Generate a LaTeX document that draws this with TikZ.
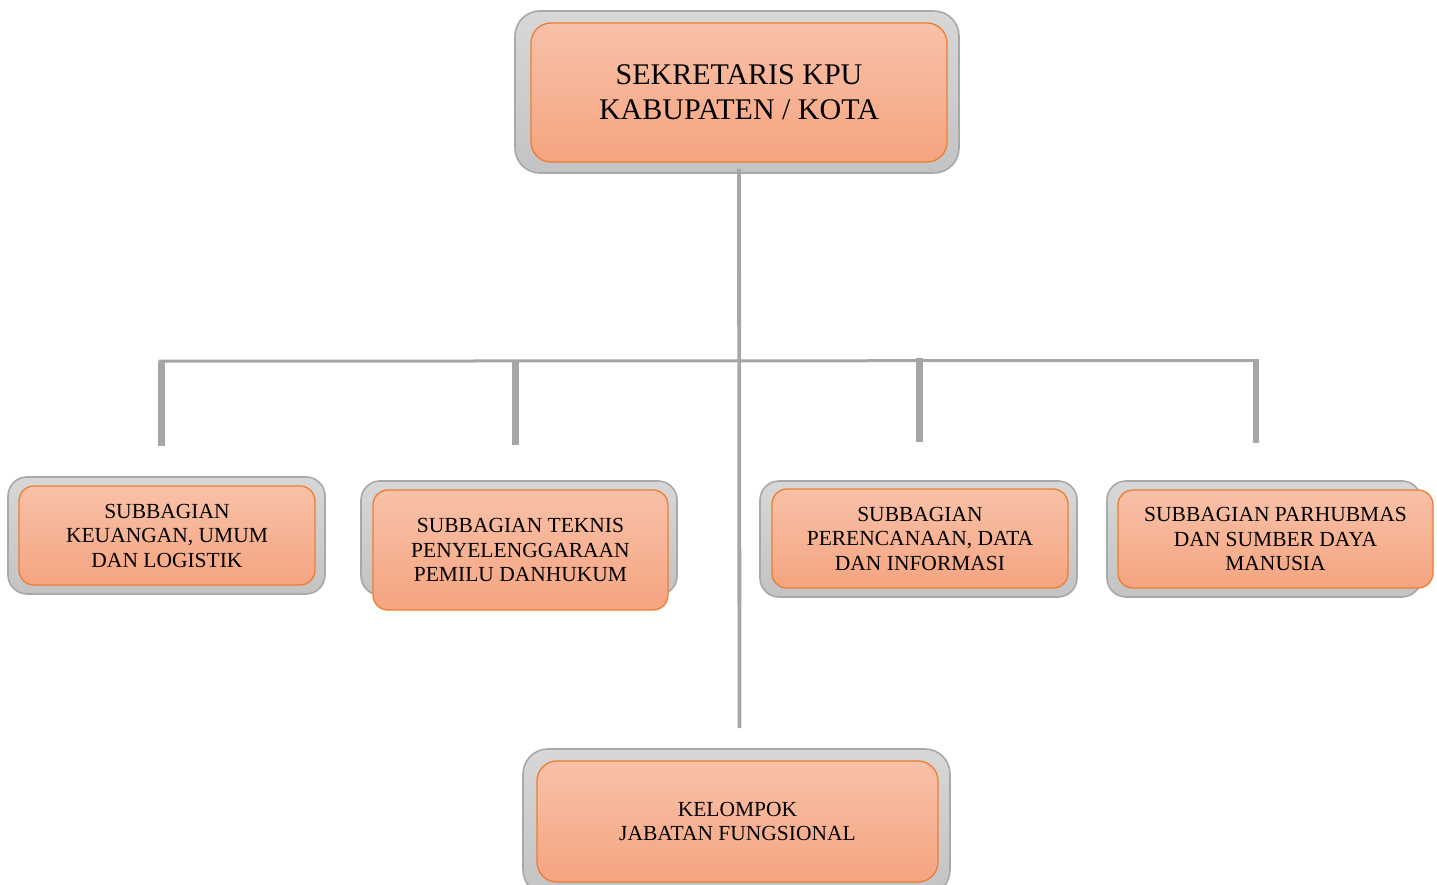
\documentclass[tikz,border=0pt]{standalone}
\usepackage{fontspec}
\setmainfont{Liberation Serif}
\definecolor{frametop}{HTML}{D7D7D7}
\definecolor{framebot}{HTML}{C3C3C3}
\definecolor{framedraw}{HTML}{A8A8A8}
\definecolor{cardtop}{HTML}{F8C1A8}
\definecolor{cardbot}{HTML}{F5A480}
\definecolor{carddraw}{HTML}{ED7D31}
\definecolor{linkgray}{HTML}{A6A6A6}
\begin{document}
\begin{tikzpicture}[x=1pt,y=-1pt,
  framebig/.style={rectangle, rounded corners=25pt, draw=framedraw, line width=1.6pt,
    top color=frametop, bottom color=framebot, inner sep=0pt},
  framesmall/.style={rectangle, rounded corners=19pt, draw=framedraw, line width=1.6pt,
    top color=frametop, bottom color=framebot, inner sep=0pt},
  cardbig/.style={rectangle, rounded corners=20pt, draw=carddraw, line width=1.3pt,
    top color=cardtop, bottom color=cardbot, inner sep=0pt, align=center,
    font=\fontsize{30}{35}\selectfont},
  cardsmall/.style={rectangle, rounded corners=15pt, draw=carddraw, line width=1.3pt,
    top color=cardtop, bottom color=cardbot, inner sep=0pt, align=center,
    font=\fontsize{21.5}{24.5}\selectfont},
  thinlink/.style={draw=linkgray, line width=3pt},
  droplink/.style={draw=linkgray, line width=6.5pt},
  mainlink/.style={draw=linkgray, line width=3.8pt}
]
\useasboundingbox (0,0) rectangle (1437,885);
\clip (0,0) rectangle (1437,885);

% connector coordinates
\coordinate (mtop) at (739,169);
\coordinate (mbot) at (739.5,728);
\coordinate (hl) at (158.5,361.2);
\coordinate (hr) at (1259,360.5);
\coordinate (d1t) at (161.7,361.5);
\coordinate (d1b) at (161.7,445.7);
\coordinate (d2t) at (515.7,361.5);
\coordinate (d2b) at (515.7,444.7);
\coordinate (d3t) at (919.5,357.7);
\coordinate (d3b) at (919.5,441.7);
\coordinate (d4t) at (1256,359);
\coordinate (d4b) at (1256,442.5);

% top box
\node[framebig, minimum width=444pt, minimum height=162pt] (topo) at (737,92) {};
\node[cardbig, minimum width=416pt, minimum height=139pt] (topi) at (739,92.5)
  {SEKRETARIS KPU\\KABUPATEN / KOTA};

% connectors
\draw[thinlink] (hl) -- (hr);
\draw[mainlink] (mtop) -- (mbot);
\draw[droplink] (d1t) -- (d1b);
\draw[droplink] (d2t) -- (d2b);
\draw[droplink] (d3t) -- (d3b);
\draw[droplink] (d4t) -- (d4b);

% box 1
\node[framesmall, minimum width=317pt, minimum height=117pt] (b1o) at (166.5,535.5) {};
\node[cardsmall, minimum width=296pt, minimum height=99pt] (b1i) at (167,535.5)
  {SUBBAGIAN\\KEUANGAN, UMUM\\DAN LOGISTIK};

% box 2
\node[framesmall, minimum width=316pt, minimum height=114pt] (b2o) at (519,538) {};
\node[cardsmall, minimum width=295pt, minimum height=120pt] (b2i) at (520.5,550)
  {SUBBAGIAN TEKNIS\\PENYELENGGARAAN\\PEMILU DANHUKUM};

% box 3
\node[framesmall, minimum width=317pt, minimum height=116pt] (b3o) at (918.5,539) {};
\node[cardsmall, minimum width=296pt, minimum height=99pt] (b3i) at (920,538.5)
  {SUBBAGIAN\\PERENCANAAN, DATA\\DAN INFORMASI};

% box 4
\node[framesmall, minimum width=314pt, minimum height=116pt] (b4o) at (1264,539) {};
\node[cardsmall, minimum width=315pt, minimum height=98pt] (b4i) at (1275.5,539)
  {SUBBAGIAN PARHUBMAS\\DAN SUMBER DAYA\\MANUSIA};

% bottom box
\node[framebig, minimum width=427pt, minimum height=146pt] (boto) at (736.5,822) {};
\node[cardsmall, rounded corners=20pt, minimum width=401pt, minimum height=121pt] (boti) at (737.5,821.5)
  {KELOMPOK\\JABATAN FUNGSIONAL};
\end{tikzpicture}
\end{document}
